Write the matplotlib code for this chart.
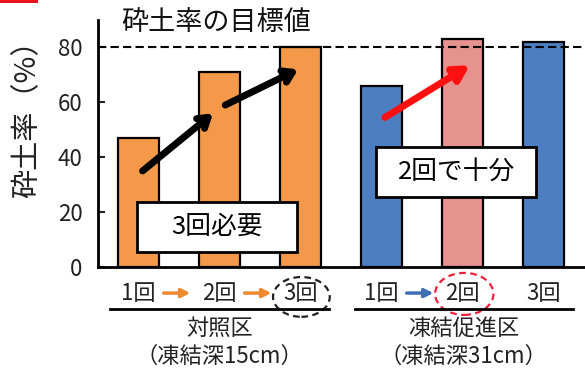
import matplotlib
matplotlib.use('Agg')
import matplotlib.pyplot as plt
from matplotlib.patches import Ellipse, Rectangle

plt.rcParams['font.family'] = ['Noto Sans CJK JP', 'DejaVu Sans']

# 砕土率 (%) per tillage pass, control plot then frost-promoted plot
rounds = ['1回', '2回', '3回', '1回', '2回', '3回']
rates = [47, 71, 80, 66, 83, 82]
bar_colors = ['#F4994A', '#F4994A', '#F4994A', '#4D7EC1', '#E6928E', '#4D7EC1']
groups = ['対照区', '凍結促進区']
depths = ['（凍結深15cm）', '（凍結深31cm）']
target = 80
yticks = [0, 20, 40, 60, 80]

fig = plt.figure(figsize=(5.85, 3.7), dpi=100)
ax = fig.add_axes([98 / 585, 1 - 267 / 370, 1 - 98 / 585, 247 / 370])

x = list(range(len(rates)))
ax.bar(x, rates, width=0.5, color=bar_colors, edgecolor='black', linewidth=1.6, zorder=2)
ax.axhline(target, color='black', linestyle=(0, (4, 2)), linewidth=1.5, zorder=3)

ax.set_xlim(-0.5, 5.51)
ax.set_ylim(0, 90)
ax.set_xticks([])
ax.set_yticks(yticks)
ax.tick_params(axis='y', direction='in', length=5, width=1.5, labelsize=16, pad=11, colors='#222222')
for s in ['top', 'right']:
    ax.spines[s].set_visible(False)
ax.spines['left'].set_linewidth(2)
ax.spines['bottom'].set_linewidth(2)

fig.text(216 / 585, 1 - 22 / 370, '砕土率の目標値', fontsize=19.5, ha='center', va='center', color='#111111')
fig.text(27 / 585, 1 - 112 / 370, '砕土率（%）', fontsize=21, rotation=90, ha='center', va='center', color='#222222')

# progress arrows over the bars
black_arrows = [((0.05, 35), (0.92, 56)), ((1.07, 59), (1.97, 72))]
for tail, head in black_arrows:
    ax.annotate('', xy=head, xytext=tail, zorder=5,
                arrowprops=dict(arrowstyle='->,head_length=0.7,head_width=0.45', color='black',
                                lw=5, shrinkA=0, shrinkB=0))
ax.annotate('', xy=(4.09, 73.5), xytext=(3.04, 54.5), zorder=5,
            arrowprops=dict(arrowstyle='-|>,head_length=0.9,head_width=0.5', color='#FF1010',
                            lw=5, shrinkA=0, shrinkB=0))

# callout boxes
callouts = [((-0.02, 5.5), '3回必要'), ((2.93, 25.5), '2回で十分')]
for (bx, by), label in callouts:
    ax.add_patch(Rectangle((bx, by), 1.98, 18.2, facecolor='white', edgecolor='black',
                           linewidth=2, zorder=6))
    ax.text(bx + 0.99, by + 9.1, label, fontsize=18.5, ha='center', va='center', zorder=7)

# pass labels and group captions below the axis
for xi, r in zip(x, rounds):
    ax.text(xi, -9.5, r, fontsize=16, ha='center', va='center', color='#222222', clip_on=False)

small_arrows = [(0, '#F08A30'), (1, '#F08A30'), (3, '#3E6FB5')]
for i, c in small_arrows:
    ax.annotate('', xy=(i + 0.64, -9.5), xytext=(i + 0.31, -9.5), annotation_clip=False,
                arrowprops=dict(arrowstyle='-|>,head_length=0.5,head_width=0.25', color=c,
                                lw=2.5, shrinkA=0, shrinkB=0))

ax.add_patch(Ellipse((2.01, -10.9), 0.7, 14.5, fill=False, edgecolor='#222222',
                     linestyle=(0, (3, 2)), linewidth=1.6, clip_on=False))
ax.add_patch(Ellipse((4.02, -9.8), 0.72, 15.3, fill=False, edgecolor='#F0203A',
                     linestyle=(0, (3, 2)), linewidth=1.6, clip_on=False))

for lo, hi, name, depth in [(-0.35, 2.35, groups[0], depths[0]), (2.67, 5.36, groups[1], depths[1])]:
    ax.plot([lo, hi], [-15.3, -15.3], color='black', linewidth=2, clip_on=False)
    mid = (lo + hi) / 2
    ax.text(mid, -22.2, name, fontsize=16, ha='center', va='center', color='#222222', clip_on=False)
    ax.text(mid, -32.7, depth, fontsize=16, ha='center', va='center', color='#222222', clip_on=False)

fig.patches.append(Rectangle((0, 1 - 3 / 370), 38 / 585, 3 / 370, transform=fig.transFigure,
                             facecolor='#E8141C', edgecolor='none'))

fig.savefig('out.png', dpi=100)
